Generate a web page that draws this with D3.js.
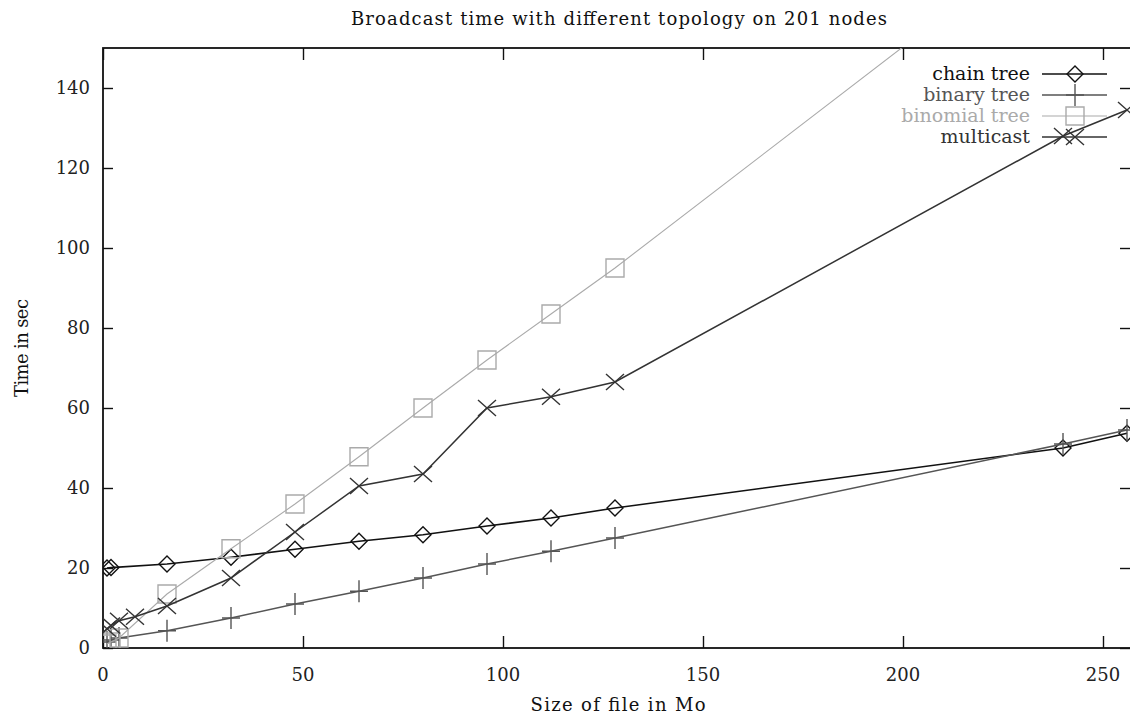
<!DOCTYPE html>
<html>
<head>
<meta charset="utf-8">
<script src="https://cdnjs.cloudflare.com/ajax/libs/d3/7.8.5/d3.min.js"></script>
<style>
  body { margin: 0; background: #fff; }
  text { font-family: "DejaVu Serif", "Liberation Serif", serif; }
</style>
</head>
<body>
<script>
// values (x = size in Mo, y = time in sec)
var chainX = [1, 2, 16, 32, 48, 64, 80, 96, 112, 128, 240, 256];
var chainY = [20, 20.1, 21, 22.7, 24.7, 26.7, 28.3, 30.5, 32.5, 35, 50, 53.7];

var binaryX = [1, 2, 4, 16, 32, 48, 64, 80, 96, 112, 128, 240, 256];
var binaryY = [1.5, 2, 2.5, 4.3, 7.5, 11, 14.2, 17.5, 21, 24.2, 27.5, 51, 54.5];

var binomialX = [1, 2, 4, 16, 32, 48, 64, 80, 96, 112, 128, 240, 256];
var binomialY = [1, 1.5, 2.5, 13.5, 24.8, 36, 47.8, 60, 72, 83.5, 95, 181, 193];

var multicastX = [1, 2, 4, 8, 16, 32, 48, 64, 80, 96, 112, 128, 240, 256];
var multicastY = [4.8, 5.6, 6.8, 7.8, 10.5, 17.5, 29, 40.5, 43.5, 60, 62.8, 66.5, 128, 134.5];

var xTicks = [0, 50, 100, 150, 200, 250];
var yTicks = [0, 20, 40, 60, 80, 100, 120, 140];

var seriesNames = ["chain tree", "binary tree", "binomial tree", "multicast"];

var width = 1130,
  height = 717;
// plot box (window.top is reserved, so use p* names)
var pLeft = 103,
  pTop = 48,
  pRight = 1131,
  pBottom = 648;

var x = d3.scaleLinear().domain([0, 257]).range([pLeft, pRight]);
var y = d3.scaleLinear().domain([0, 150]).range([pBottom, pTop]);

function zip(xs, ys) {
  return xs.map(function(v, i) {
    return [v, ys[i]];
  });
}

var series = [
  { name: seriesNames[0], pts: zip(chainX, chainY), color: "#111", width: 1.6, mark: "diamond" },
  { name: seriesNames[1], pts: zip(binaryX, binaryY), color: "#555", width: 1.5, mark: "plus" },
  { name: seriesNames[2], pts: zip(binomialX, binomialY), color: "#aaa", width: 1.1, mark: "square" },
  { name: seriesNames[3], pts: zip(multicastX, multicastY), color: "#333", width: 1.5, mark: "cross" }
];

var svg = d3
  .select("body")
  .append("svg")
  .attr("width", width)
  .attr("height", height);

svg
  .append("defs")
  .append("clipPath")
  .attr("id", "plot")
  .append("rect")
  .attr("x", pLeft)
  .attr("y", pTop)
  .attr("width", pRight - pLeft)
  .attr("height", pBottom - pTop);

// frame
svg
  .append("rect")
  .attr("x", pLeft)
  .attr("y", pTop)
  .attr("width", pRight - pLeft)
  .attr("height", pBottom - pTop)
  .attr("fill", "none")
  .attr("stroke", "#111")
  .attr("stroke-width", 1.8);

// axes with mirrored inward ticks
svg
  .append("g")
  .attr("transform", "translate(0," + pBottom + ")")
  .call(d3.axisTop(x).tickValues(xTicks).tickSize(12).tickFormat(""));
svg
  .append("g")
  .attr("transform", "translate(0," + pTop + ")")
  .call(d3.axisBottom(x).tickValues(xTicks).tickSize(12).tickFormat(""));
svg
  .append("g")
  .attr("transform", "translate(" + pLeft + ",0)")
  .call(d3.axisRight(y).tickValues(yTicks).tickSize(10).tickFormat(""));
svg
  .append("g")
  .attr("transform", "translate(" + pRight + ",0)")
  .call(d3.axisLeft(y).tickValues(yTicks).tickSize(11).tickFormat(""));
svg.selectAll(".domain").remove();
svg.selectAll(".tick line").attr("stroke", "#111").attr("stroke-width", 1.4);

// tick labels
svg
  .selectAll(".xlab")
  .data(xTicks)
  .enter()
  .append("text")
  .attr("x", function(d) {
    return x(d);
  })
  .attr("y", pBottom + 33)
  .attr("text-anchor", "middle")
  .attr("font-size", 18)
  .attr("fill", "#222")
  .text(function(d) {
    return d;
  });

svg
  .selectAll(".ylab")
  .data(yTicks)
  .enter()
  .append("text")
  .attr("x", pLeft - 13)
  .attr("y", function(d) {
    return y(d) + 6;
  })
  .attr("text-anchor", "end")
  .attr("font-size", 18)
  .attr("fill", "#222")
  .text(function(d) {
    return d;
  });

// titles
svg
  .append("text")
  .attr("x", 619)
  .attr("y", 25)
  .attr("text-anchor", "middle")
  .attr("font-size", 18)
  .attr("textLength", 536)
  .attr("fill", "#111")
  .text("Broadcast time with different topology on 201 nodes");

svg
  .append("text")
  .attr("x", 618)
  .attr("y", 711)
  .attr("text-anchor", "middle")
  .attr("font-size", 18)
  .attr("textLength", 175)
  .attr("fill", "#111")
  .text("Size of file in Mo");

svg
  .append("text")
  .attr("transform", "translate(28,348) rotate(-90)")
  .attr("text-anchor", "middle")
  .attr("font-size", 18)
  .attr("textLength", 98)
  .attr("fill", "#111")
  .text("Time in sec");

// marker shapes
function marker(g, kind, color) {
  if (kind == "diamond") {
    g.append("path").attr("d", "M0,-8L8,0L0,8L-8,0Z");
  } else if (kind == "plus") {
    g.append("path").attr("d", "M0,-11V11M-9,0H9");
  } else if (kind == "square") {
    g.append("path").attr("d", "M-9,-9H9V9H-9Z");
  } else {
    g.append("path").attr("d", "M-9,-8L9,8M-9,8L9,-8");
  }
  g.selectAll("path")
    .attr("fill", "none")
    .attr("stroke", color)
    .attr("stroke-width", 1.4);
}

var line = d3
  .line()
  .x(function(d) {
    return x(d[0]);
  })
  .y(function(d) {
    return y(d[1]);
  });

var plot = svg.append("g").attr("clip-path", "url(#plot)");

series.forEach(function(s) {
  plot
    .append("path")
    .datum(s.pts)
    .attr("d", line)
    .attr("fill", "none")
    .attr("stroke", s.color)
    .attr("stroke-width", s.width);

  plot
    .selectAll(null)
    .data(s.pts)
    .enter()
    .append("g")
    .attr("transform", function(d) {
      return "translate(" + x(d[0]) + "," + y(d[1]) + ")";
    })
    .each(function() {
      marker(d3.select(this), s.mark, s.color);
    });
});

// legend
var legend = svg
  .selectAll(".leg")
  .data(series)
  .enter()
  .append("g")
  .attr("transform", function(d, i) {
    return "translate(0," + (74 + i * 21) + ")";
  });

legend
  .append("text")
  .attr("x", 1030)
  .attr("y", 6)
  .attr("text-anchor", "end")
  .attr("font-size", 19)
  .attr("fill", function(d) {
    return d.color;
  })
  .text(function(d) {
    return d.name;
  });

legend
  .append("line")
  .attr("x1", 1042)
  .attr("x2", 1107)
  .attr("stroke", function(d) {
    return d.color;
  })
  .attr("stroke-width", function(d) {
    return d.width;
  });

legend.each(function(d) {
  var g = d3.select(this).append("g").attr("transform", "translate(1075,0)");
  marker(g, d.mark, d.color);
});
</script>
</body>
</html>
